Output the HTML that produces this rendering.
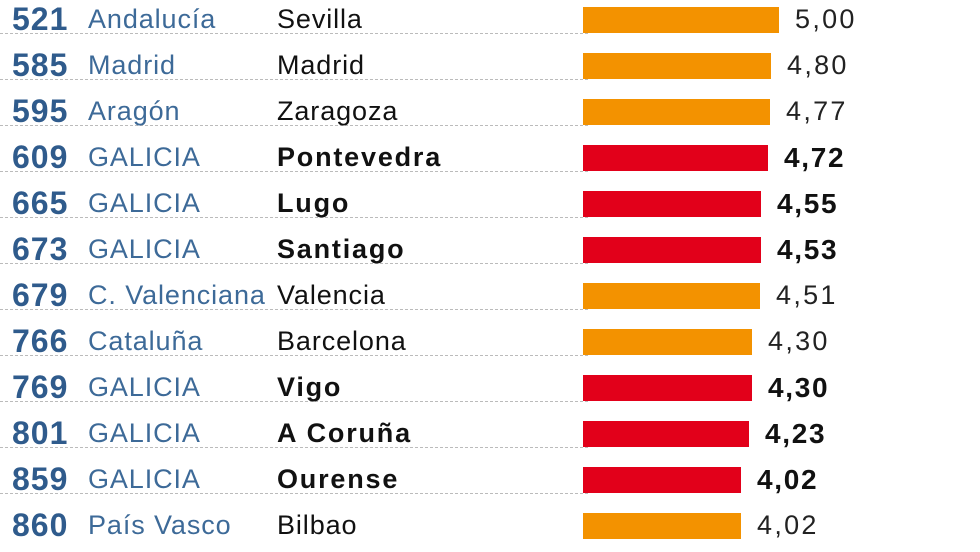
<!DOCTYPE html>
<html><head><meta charset="utf-8"><style>
body{margin:0;width:980px;height:550px;background:#fff;overflow:hidden;position:relative;font-family:"Liberation Sans",sans-serif}
.r{position:absolute;left:0;width:980px;height:46px}
.dl{position:absolute;left:0;width:588px;top:33px;border-top:1px dashed #bbb}
.n{position:absolute;left:12px;top:1px;font-family:"Liberation Sans Narrow","Liberation Sans",sans-serif;font-weight:bold;font-size:32px;color:#2f5b8c;letter-spacing:1px}
.g{position:absolute;left:88px;top:4px;font-size:27px;letter-spacing:0.9px;color:#3d6a98}
.c{position:absolute;left:277px;top:4px;font-size:27px;letter-spacing:0.9px;color:#111}
.c.b{font-weight:bold;letter-spacing:1.8px}
.bar{position:absolute;left:583px;top:7px;height:26px}
.v{position:absolute;top:4px;font-size:27px;letter-spacing:2.3px;color:#222}
.v.b{font-weight:bold;font-size:28px;letter-spacing:1.7px;color:#111}
</style></head><body>
<div id="w"></div>
<script>
const d=[["521","Andalucía","Sevilla",5.00,0],["585","Madrid","Madrid",4.80,0],["595","Aragón","Zaragoza",4.77,0],["609","GALICIA","Pontevedra",4.72,1],["665","GALICIA","Lugo",4.55,1],["673","GALICIA","Santiago",4.53,1],["679","C. Valenciana","Valencia",4.51,0],["766","Cataluña","Barcelona",4.30,0],["769","GALICIA","Vigo",4.30,1],["801","GALICIA","A Coruña",4.23,1],["859","GALICIA","Ourense",4.02,1],["860","País Vasco","Bilbao",4.02,0]];
let h="";d.forEach((r,i)=>{const w=Math.round(r[3]*39.2);const b=r[4]?" b":"";
h+=`<div class="r" style="top:${i*46}px">${i<11?'<div class="dl"></div>':''}<div class="n">${r[0]}</div><div class="g">${r[1]}</div><div class="c${b}">${r[2]}</div><div class="bar" style="width:${w}px;background:${r[4]?'#e2001a':'#f39200'}"></div><div class="v${b}" style="left:${583+w+16}px">${r[3].toFixed(2).replace('.',',')}</div></div>`});
document.getElementById("w").innerHTML=h;
</script>
</body></html>
